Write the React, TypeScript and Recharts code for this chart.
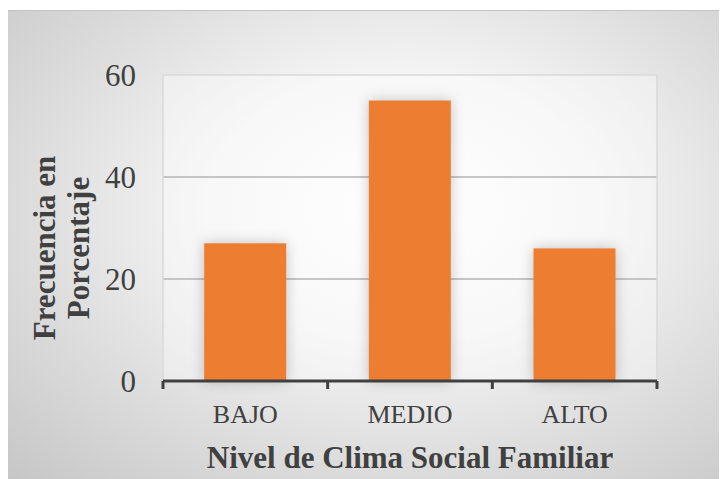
import React from 'react';
import { BarChart, Bar, XAxis, YAxis, CartesianGrid, ReferenceArea } from 'recharts';

const categories = ['BAJO', 'MEDIO', 'ALTO'];
const porcentajes = [27, 55, 26];
const yTicks = [0, 20, 40, 60];
const gridValues = [20, 40];

const data = categories.map((nivel, i) => ({ nivel, valor: porcentajes[i] }));

const W = 719;
const H = 469;
const MARGIN = { top: 64, right: 70, bottom: 10, left: 10 };
const Y_WIDTH = 145;
const BAND = (W - MARGIN.left - Y_WIDTH - MARGIN.right) / categories.length;
const SERIF = '"Liberation Serif", "Times New Roman", serif';
const TEXT = '#404040';

// category labels, with tick marks on the category boundaries (Excel style)
const XTick = (props: any) => {
    const { x, y, payload, index } = props;
    return (
        <g>
            <line x1={x - BAND / 2} x2={x - BAND / 2} y1={y} y2={y + 8} stroke={TEXT} strokeWidth={3} />
            {index === categories.length - 1 && (
                <line x1={x + BAND / 2} x2={x + BAND / 2} y1={y} y2={y + 8} stroke={TEXT} strokeWidth={3} />
            )}
            <text x={x} y={y + 42} textAnchor="middle" fontSize={26} fontFamily={SERIF} fill={TEXT}>
                {payload.value}
            </text>
        </g>
    );
};

const YLabel = (props: any) => {
    const { viewBox } = props;
    const cy = viewBox.y + viewBox.height / 2 + 20;
    const lines = [
        { text: 'Frecuencia en', x: 47 },
        { text: 'Porcentaje', x: 81 },
    ];
    return (
        <g>
            {lines.map((l) => (
                <text
                    key={l.text}
                    x={l.x}
                    y={cy}
                    transform={`rotate(-90, ${l.x}, ${cy})`}
                    textAnchor="middle"
                    fontSize={31}
                    fontWeight="bold"
                    fontFamily={SERIF}
                    fill={TEXT}
                >
                    {l.text}
                </text>
            ))}
        </g>
    );
};

const XLabel = (props: any) => {
    const { viewBox } = props;
    return (
        <text
            x={viewBox.x + viewBox.width / 2}
            y={457}
            textAnchor="middle"
            fontSize={31}
            fontWeight="bold"
            fontFamily={SERIF}
            fill={TEXT}
        >
            Nivel de Clima Social Familiar
        </text>
    );
};

const ShadowBar = (props: any) => {
    const { x, y, width, height, fill } = props;
    return (
        <rect
            x={x}
            y={y}
            width={width}
            height={height}
            fill={fill}
            style={{ filter: 'drop-shadow(0 0 7px rgba(0,0,0,0.22))' }}
        />
    );
};

export default function App() {
    return (
        <div
            style={{
                width: W,
                height: H,
                marginTop: 2,
                borderTop: '1px solid #c4c4c4',
                boxSizing: 'border-box',
                background: 'radial-gradient(ellipse at 55% 42%, #ffffff 0%, #f4f4f4 35%, #dedede 65%, #c6c6c6 100%)',
            }}
        >
            <BarChart width={W} height={H - 1} data={data} margin={MARGIN} barCategoryGap="25%">
                <ReferenceArea y1={0} y2={60} fill="#ffffff" fillOpacity={0.35} stroke="#d9d9d9" strokeWidth={1.5} />
                <CartesianGrid vertical={false} horizontalValues={gridValues} stroke="#8e8e8e" strokeWidth={1.5} />
                <XAxis
                    dataKey="nivel"
                    height={88}
                    axisLine={{ stroke: TEXT, strokeWidth: 3 }}
                    tickLine={false}
                    tickSize={0}
                    tickMargin={0}
                    tick={<XTick />}
                    interval={0}
                    label={<XLabel />}
                />
                <YAxis
                    width={Y_WIDTH}
                    domain={[0, 60]}
                    ticks={yTicks}
                    axisLine={false}
                    tickLine={false}
                    tickSize={0}
                    tickMargin={27}
                    tick={{ fontSize: 31, fontFamily: SERIF, fill: TEXT }}
                    label={<YLabel />}
                />
                <Bar dataKey="valor" fill="#ED7D31" shape={<ShadowBar />} isAnimationActive={false} />
            </BarChart>
        </div>
    );
}
